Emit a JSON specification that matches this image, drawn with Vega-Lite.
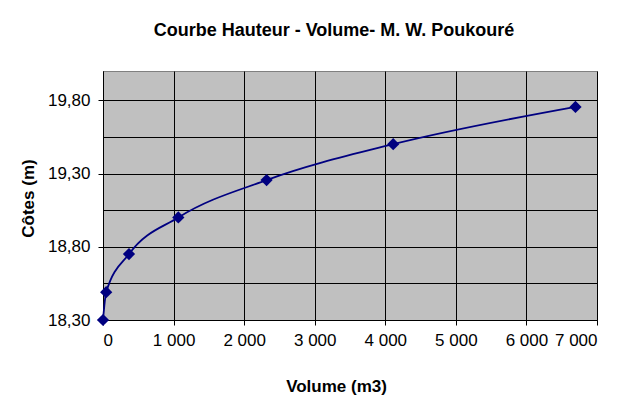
{
  "$schema": "https://vega.github.io/schema/vega-lite/v6.json",
  "width": 494,
  "height": 249,
  "autosize": "none",
  "padding": {"left": 103, "top": 71, "right": 34, "bottom": 86},
  "background": "white",
  "title": {
    "text": "Courbe Hauteur - Volume- M. W. Poukouré",
    "font": "Liberation Sans",
    "fontSize": 18,
    "fontWeight": "bold",
    "color": "black",
    "anchor": "middle",
    "dx": -16,
    "offset": 17,
    "baseline": "alphabetic"
  },
  "data": {
    "values": [
      {"volume": 0, "cote": 18.30},
      {"volume": 45, "cote": 18.49},
      {"volume": 368, "cote": 18.75},
      {"volume": 1067, "cote": 19.00},
      {"volume": 2318, "cote": 19.255},
      {"volume": 4112, "cote": 19.50},
      {"volume": 6695, "cote": 19.755}
    ]
  },
  "encoding": {
    "x": {
      "field": "volume",
      "type": "quantitative",
      "scale": {"domain": [0, 7000], "nice": false, "zero": false},
      "axis": {
        "title": "Volume (m3)",
        "values": [0, 1000, 2000, 3000, 4000, 5000, 6000, 7000],
        "labelExpr": "replace(format(datum.value, ','), ',', ' ')",
        "titleX": 233,
        "titleY": 66,
        "titleBaseline": "middle"
      }
    },
    "y": {
      "field": "cote",
      "type": "quantitative",
      "scale": {"domain": [18.3, 20.0], "nice": false, "zero": false},
      "axis": {
        "title": "Côtes (m)",
        "values": [18.3, 18.55, 18.8, 19.05, 19.3, 19.55, 19.8],
        "labelExpr": "abs((datum.value - 18.3) / 0.5 - round((datum.value - 18.3) / 0.5)) < 0.01 ? replace(format(datum.value, '.2f'), '.', ',') : ''",
        "tickOpacity": {"condition": {"test": "abs((datum.value - 18.3) / 0.5 - round((datum.value - 18.3) / 0.5)) < 0.01", "value": 1}, "value": 0},
        "titleX": -75,
        "titleY": 127,
        "titleBaseline": "middle",
        "titleAngle": -90
      }
    }
  },
  "layer": [
    {
      "mark": {"type": "line", "color": "#000080", "strokeWidth": 1.8, "interpolate": "monotone"}
    },
    {
      "mark": {"type": "point", "shape": "diamond", "filled": true, "color": "#000080", "size": 150, "opacity": 1}
    }
  ],
  "config": {
    "view": {"fill": "#C0C0C0", "stroke": "#808080", "strokeWidth": 1},
    "axis": {
      "grid": true,
      "gridColor": "black",
      "gridWidth": 1,
      "gridOpacity": 1,
      "domainColor": "black",
      "domainWidth": 1,
      "tickColor": "black",
      "tickSize": 5,
      "labelFont": "Liberation Sans",
      "labelFontSize": 17,
      "labelColor": "black",
      "titleFont": "Liberation Sans",
      "titleFontSize": 17,
      "titleFontWeight": "bold",
      "titleColor": "black"
    },
    "axisY": {"labelPadding": 8},
    "axisX": {"labelPadding": 7}
  }
}
